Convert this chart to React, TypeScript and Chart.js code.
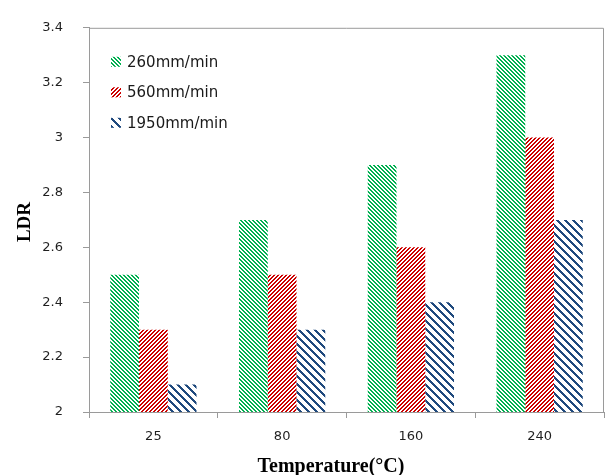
import { useEffect, useRef } from "react";
import { Chart, registerables } from "chart.js";

Chart.register(...registerables);

// Forming temperature categories (°C)
const categories = ["25", "80", "160", "240"];

// Series names (punch speed)
const seriesLabels = ["260mm/min", "560mm/min", "1950mm/min"];

// Limiting drawing ratio per temperature, one array per speed
const ldr260 = [2.5, 2.7, 2.9, 3.3];
const ldr560 = [2.3, 2.5, 2.6, 3.0];
const ldr1950 = [2.1, 2.3, 2.4, 2.7];

// Value axis ticks
const yTicks = [2, 2.2, 2.4, 2.6, 2.8, 3, 3.2, 3.4];

const xTitle = "Temperature(°C)";
const yTitle = "LDR";

const AXIS_GRAY = "#9a9a9a";
const TEXT = "#1f1f1f";
const TICK_FONT = { family: "'DejaVu Sans', Verdana, sans-serif", size: 13 };

// Build an 8x8 diagonal hatch tile and turn it into a repeating pattern
function hatch(
  ctx: CanvasRenderingContext2D,
  color: string,
  period: number,
  width: number,
  upward: boolean
): CanvasPattern {
  const size = 8;
  const tile = document.createElement("canvas");
  tile.width = size;
  tile.height = size;
  const g = tile.getContext("2d") as CanvasRenderingContext2D;
  g.fillStyle = color;
  for (let y = 0; y < size; y++) {
    for (let x = 0; x < size; x++) {
      const k = upward ? x + y : x - y;
      if ((((k % period) + period) % period) < width) g.fillRect(x, y, 1, 1);
    }
  }
  return ctx.createPattern(tile, "repeat") as CanvasPattern;
}

// Legend drawn inside the plot area, top-left
const insideLegend = {
  id: "insideLegend",
  afterDatasetsDraw(chart: any) {
    const { ctx, chartArea } = chart;
    ctx.save();
    ctx.font = "15px 'DejaVu Sans', Verdana, sans-serif";
    ctx.textBaseline = "middle";
    ctx.textAlign = "left";
    chart.data.datasets.forEach((ds: any, i: number) => {
      const cy = chartArea.top + 34 + i * 30.5;
      const bx = chartArea.left + 22;
      ctx.fillStyle = ds.backgroundColor;
      ctx.fillRect(bx, cy - 5, 10, 10);
      ctx.fillStyle = "#1a1a1a";
      ctx.fillText(ds.label, bx + 16, cy + 1);
    });
    ctx.restore();
  },
};

// Box around the plot area (top and right edges)
const plotFrame = {
  id: "plotFrame",
  afterDraw(chart: any) {
    const { ctx, chartArea } = chart;
    ctx.save();
    ctx.strokeStyle = AXIS_GRAY;
    ctx.lineWidth = 1;
    ctx.beginPath();
    ctx.moveTo(chartArea.left, chartArea.top + 0.5);
    ctx.lineTo(chartArea.right - 0.5, chartArea.top + 0.5);
    ctx.lineTo(chartArea.right - 0.5, chartArea.bottom);
    ctx.stroke();
    ctx.restore();
  },
};

// Axis titles in bold serif
const axisTitles = {
  id: "axisTitles",
  afterDraw(chart: any) {
    const { ctx, chartArea } = chart;
    ctx.save();
    ctx.fillStyle = "#000";
    ctx.font = "bold 20px 'Liberation Serif', 'Times New Roman', serif";
    ctx.textAlign = "center";
    ctx.textBaseline = "middle";
    ctx.fillText(xTitle, 331, chartArea.bottom + 55);
    ctx.font = "bold 19px 'Liberation Serif', 'Times New Roman', serif";
    ctx.translate(25, 222);
    ctx.rotate(-Math.PI / 2);
    ctx.fillText(yTitle, 0, 0);
    ctx.restore();
  },
};

export default function App() {
  const canvasRef = useRef<HTMLCanvasElement | null>(null);

  useEffect(() => {
    const canvas = canvasRef.current;
    if (!canvas) return;
    const ctx = canvas.getContext("2d") as CanvasRenderingContext2D;

    const fills = [
      hatch(ctx, "#00B050", 4, 2, false),
      hatch(ctx, "#CC0000", 4, 2, true),
      hatch(ctx, "#1F497D", 8, 3, false),
    ];
    const values = [ldr260, ldr560, ldr1950];

    const chart = new Chart(canvas, {
      type: "bar",
      data: {
        labels: categories,
        datasets: seriesLabels.map((label, i) => ({
          label,
          data: values[i],
          backgroundColor: fills[i] as any,
          borderWidth: 0,
          barPercentage: 1,
          categoryPercentage: 0.67,
        })),
      },
      options: {
        responsive: false,
        devicePixelRatio: 1,
        animation: false,
        layout: { padding: { top: 20, right: 2, left: 0, bottom: 0 } },
        plugins: {
          legend: { display: false },
          tooltip: { enabled: false },
          title: { display: false },
        },
        scales: {
          x: {
            type: "category",
            offset: true,
            grid: {
              offset: true,
              drawOnChartArea: false,
              drawTicks: true,
              tickLength: 6,
              color: AXIS_GRAY,
            },
            border: { display: true, color: AXIS_GRAY, width: 1 },
            ticks: { font: TICK_FONT, color: TEXT, padding: 11 },
            afterFit(scale: any) {
              scale.height = 63;
            },
          },
          y: {
            type: "linear",
            min: 2,
            max: 3.4,
            afterBuildTicks(scale: any) {
              scale.ticks = yTicks.map((v) => ({ value: v }));
            },
            grid: {
              drawOnChartArea: false,
              drawTicks: true,
              tickLength: 6,
              color: AXIS_GRAY,
            },
            border: { display: true, color: AXIS_GRAY, width: 1 },
            ticks: {
              font: TICK_FONT,
              color: TEXT,
              padding: 20,
              callback: (v: any) => String(Number(Number(v).toFixed(1))),
            },
            afterFit(scale: any) {
              scale.width = 89;
            },
          },
        },
      },
      plugins: [insideLegend, plotFrame, axisTitles],
    });

    return () => chart.destroy();
  }, []);

  return (
    <div style={{ position: "absolute", left: 0, top: 0, width: 606, height: 475, background: "#fff" }}>
      <canvas ref={canvasRef} width={606} height={475} />
    </div>
  );
}
